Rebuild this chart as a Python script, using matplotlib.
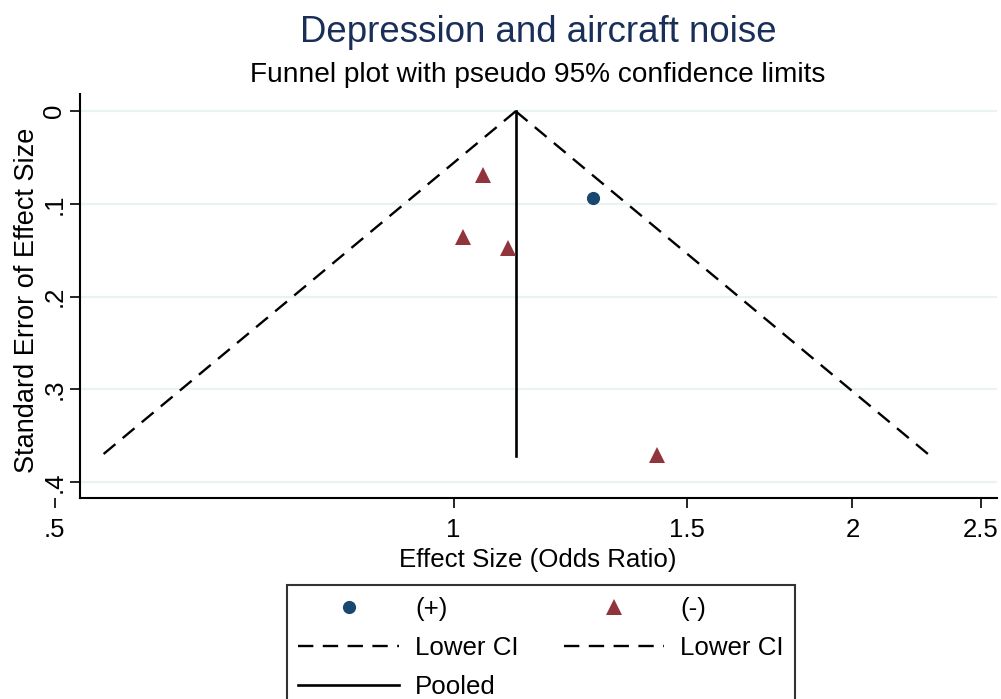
"""Funnel plot: depression and aircraft noise."""

import matplotlib

matplotlib.use("Agg")

import matplotlib.pyplot as plt
import numpy as np
from matplotlib.lines import Line2D

# study estimates
POS_OR = [1.275]
POS_SE = [0.094]
NEG_OR = [1.052, 1.017, 1.099, 1.424]
NEG_SE = [0.069, 0.136, 0.1475, 0.371]

POOLED_OR = 1.114
SE_MAX = 0.372
LOWER_CI_OR = [POOLED_OR, 0.542]
UPPER_CI_OR = [POOLED_OR, 2.29]
CI_SE = [0.0, SE_MAX]

X_TICKS = [0.5, 1, 1.5, 2, 2.5]
X_TICK_LABELS = [".5", "1", "1.5", "2", "2.5"]
Y_TICKS = [0, 0.1, 0.2, 0.3, 0.4]
Y_TICK_LABELS = ["0", ".1", ".2", ".3", ".4"]

BLUE = "#1a476f"
RED = "#90353b"
TITLE_COLOR = "#1a2f58"
GRID_COLOR = "#eaf2f3"

W, H = 1001, 699


def px_box(left, top, right, bottom):
    return [left / W, 1 - bottom / H, (right - left) / W, (bottom - top) / H]


def main() -> None:
    plt.rcParams.update(
        {
            "font.family": ["Liberation Sans", "DejaVu Sans"],
            "font.size": 18.5,
        }
    )
    fig = plt.figure(figsize=(W / 100, H / 100), dpi=100)
    fig.patch.set_facecolor("white")

    # axes start at the .5 tick; spine drawn further right like Stata
    ax = fig.add_axes(px_box(54.7, 94.3, 997, 498.3))
    x_left = 0.5225
    x_right = 2.571
    ax.set_xscale("log")
    ax.set_xlim(0.5, x_right)
    ax.set_ylim(0.4176, -0.0183)

    ax.hlines(Y_TICKS, x_left, x_right, color=GRID_COLOR, linewidth=1.6, zorder=0)

    dash = (6.5, 4)
    ax.plot(LOWER_CI_OR, CI_SE, color="black", linewidth=1.7, dashes=dash, zorder=2)
    ax.plot(UPPER_CI_OR, CI_SE, color="black", linewidth=1.7, dashes=dash, zorder=2)
    ax.plot([POOLED_OR, POOLED_OR], CI_SE, color="black", linewidth=1.9, zorder=2)
    ax.plot(POS_OR, POS_SE, linestyle="none", marker="o", markersize=9.5,
            color=BLUE, markeredgewidth=0, zorder=3)
    ax.plot(NEG_OR, NEG_SE, linestyle="none", marker="^", markersize=11.5,
            color=RED, markeredgewidth=0, zorder=3)

    for side in ("top", "right"):
        ax.spines[side].set_visible(False)
    ax.spines["left"].set_position(("data", x_left))
    ax.spines["bottom"].set_bounds(x_left, x_right)
    for side in ("left", "bottom"):
        ax.spines[side].set_linewidth(1.5)

    ax.set_xticks(X_TICKS)
    ax.set_xticklabels(X_TICK_LABELS)
    ax.xaxis.set_minor_locator(matplotlib.ticker.NullLocator())
    ax.set_yticks(Y_TICKS)
    ax.set_yticklabels(Y_TICK_LABELS, rotation=90, va="center")
    ax.tick_params(axis="both", direction="out", length=7, width=1.2, labelsize=18.5)
    ax.tick_params(axis="x", pad=7)
    ax.tick_params(axis="y", pad=3)

    ax.set_xlabel("Effect Size (Odds Ratio)", fontsize=18.6)
    ax.xaxis.set_label_coords((538 - 54.7) / (997 - 54.7), -0.122)
    ax.set_ylabel("Standard Error of Effect Size", fontsize=19.5)
    ax.yaxis.set_label_coords(-0.016, 0.49)

    fig.text(538 / W, 1 - 32 / H, "Depression and aircraft noise", ha="center",
             va="center", fontsize=26.4, color=TITLE_COLOR)
    fig.text(538 / W, 1 - 75 / H, "Funnel plot with pseudo 95% confidence limits",
             ha="center", va="center", fontsize=20.2, color="black")

    handles = [
        Line2D([], [], linestyle="none", marker="o", markersize=9.5, color=BLUE,
               markeredgewidth=0),
        Line2D([], [], color="black", linewidth=1.7, dashes=dash),
        Line2D([], [], color="black", linewidth=1.9),
        Line2D([], [], linestyle="none", marker="^", markersize=11.5, color=RED,
               markeredgewidth=0),
        Line2D([], [], color="black", linewidth=1.7, dashes=dash),
    ]
    labels = ["(+)", "Lower CI", "Pooled", "(-)", "Lower CI"]
    legend = fig.legend(
        handles,
        labels,
        ncols=2,
        loc="upper center",
        bbox_to_anchor=(541 / W, 1 - 585 / H),
        fontsize=18.6,
        frameon=True,
        fancybox=False,
        edgecolor="black",
        handlelength=3.9,
        handletextpad=0.62,
        columnspacing=1.75,
        labelspacing=0.58,
        borderpad=0.45,
        borderaxespad=0,
    )
    legend.get_frame().set_linewidth(1.5)

    fig.savefig("out.png", dpi=100, facecolor="white")
    plt.close(fig)


if __name__ == "__main__":
    main()
